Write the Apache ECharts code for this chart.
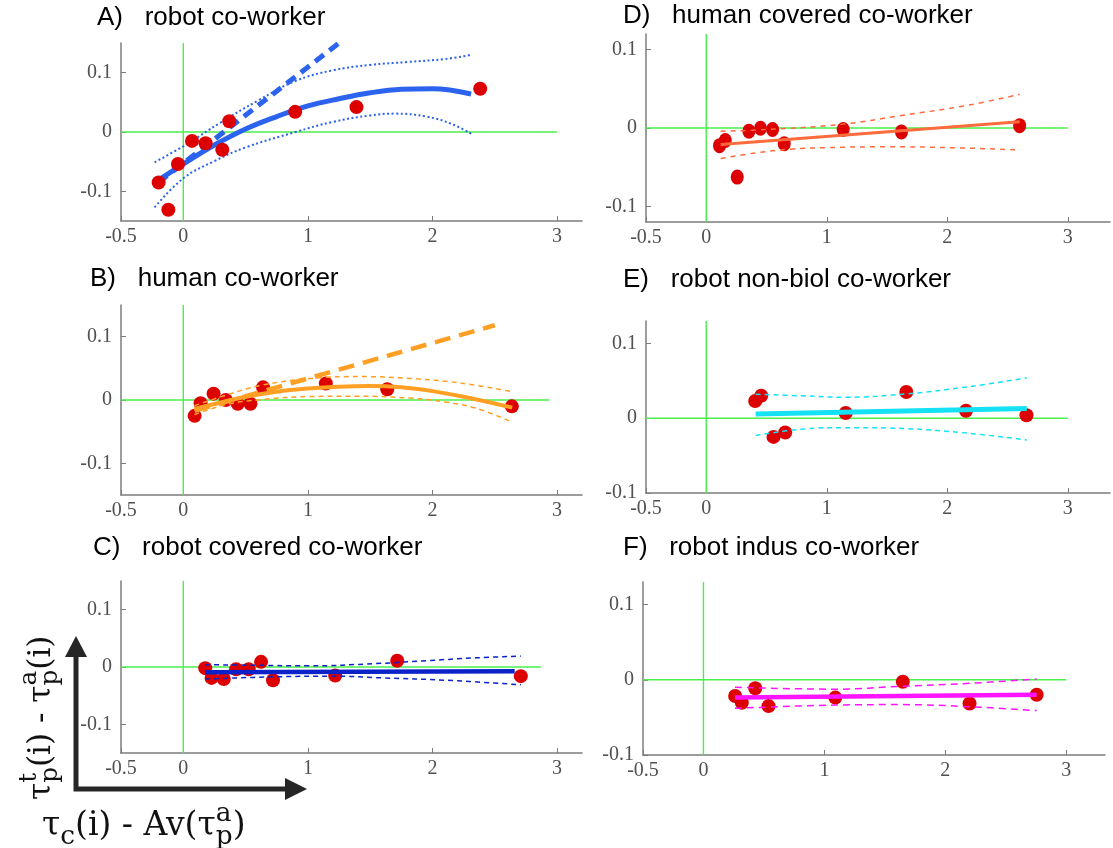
<!DOCTYPE html>
<html>
<head>
<meta charset="utf-8">
<script src="https://cdn.jsdelivr.net/npm/echarts@6/dist/echarts.min.js"></script>
<style>
  html, body { margin: 0; padding: 0; background: #fff; }
  #main { width: 1113px; height: 848px; }
</style>
</head>
<body>
<div id="main"></div>
<script>
  // tick labels shared by every panel
  var xTicks = [-0.5, 0, 1, 2, 3];
  var yTicks = [-0.1, 0, 0.1];

  // A) robot co-worker
  var aPtsX = [-0.198, -0.12, -0.043, 0.07, 0.179, 0.313, 0.369, 0.898, 1.39, 2.383];
  var aPtsY = [-0.085, -0.131, -0.054, -0.015, -0.019, -0.030, 0.018, 0.034, 0.042, 0.073];
  var aFitX = [-0.2, 0, 0.25, 0.5, 0.75, 1.0, 1.25, 1.5, 1.75, 2.0, 2.31];
  var aFitY = [-0.081, -0.054, -0.022, 0.005, 0.026, 0.044, 0.056, 0.066, 0.072, 0.073, 0.064];
  var aUpX = [-0.23, 0, 0.3, 0.6, 0.9, 1.2, 1.5, 1.8, 2.1, 2.31];
  var aUpY = [-0.051, -0.024, 0.016, 0.053, 0.086, 0.104, 0.113, 0.118, 0.123, 0.13];
  var aLoX = [-0.23, 0, 0.25, 0.5, 0.9, 1.2, 1.5, 1.7, 1.95, 2.15, 2.31];
  var aLoY = [-0.127, -0.078, -0.049, -0.026, 0.0, 0.017, 0.028, 0.031, 0.026, 0.014, -0.003];
  var aTanX = [-0.2, 1.25];
  var aTanY = [-0.085, 0.15];

  // B) human co-worker
  var bPtsX = [0.091, 0.139, 0.243, 0.341, 0.437, 0.539, 0.64, 1.144, 1.637, 2.637];
  var bPtsY = [-0.025, -0.005, 0.010, 0.000, -0.006, -0.006, 0.020, 0.026, 0.017, -0.010];
  var bFitX = [0.09, 0.3, 0.5, 0.75, 1.0, 1.25, 1.5, 1.75, 2.0, 2.25, 2.64];
  var bFitY = [-0.014, -0.004, 0.005, 0.013, 0.018, 0.021, 0.022, 0.020, 0.014, 0.005, -0.012];
  var bUpX = [0.09, 0.35, 0.62, 1.02, 1.42, 1.82, 2.22, 2.64];
  var bUpY = [-0.009, 0.008, 0.023, 0.034, 0.037, 0.034, 0.027, 0.013];
  var bLoX = [0.09, 0.35, 0.62, 1.02, 1.42, 1.82, 2.1, 2.35, 2.64];
  var bLoY = [-0.023, -0.007, 0.0005, 0.0055, 0.006, 0.003, -0.003, -0.013, -0.035];
  var bTanX = [0.09, 2.5];
  var bTanY = [-0.017, 0.118];

  // C) robot covered co-worker
  var cPtsX = [0.176, 0.227, 0.325, 0.424, 0.525, 0.624, 0.72, 1.219, 1.717, 2.709];
  var cPtsY = [-0.002, -0.019, -0.021, -0.004, -0.004, 0.009, -0.023, -0.015, 0.011, -0.016];
  var cFitX = [0.176, 2.66];
  var cFitY = [-0.0093, -0.0075];
  var cUpX = [0.176, 0.6, 1.0, 1.55, 1.95, 2.35, 2.71];
  var cUpY = [0.004, 0.003, 0.002, 0.006, 0.011, 0.016, 0.019];
  var cLoX = [0.176, 0.75, 1.2, 1.6, 2.1, 2.71];
  var cLoY = [-0.021, -0.017, -0.016, -0.019, -0.023, -0.031];

  // D) human covered co-worker
  var dPtsX = [0.11, 0.158, 0.257, 0.354, 0.45, 0.55, 0.647, 1.136, 1.62, 2.60];
  var dPtsY = [-0.0225, -0.016, -0.0627, -0.004, -0.0004, -0.002, -0.020, -0.002, -0.005, 0.003];
  var dFitX = [0.12, 2.60];
  var dFitY = [-0.021, 0.008];
  var dUpX = [0.12, 0.5, 1.14, 1.62, 2.17, 2.6];
  var dUpY = [-0.004, -0.002, 0.005, 0.016, 0.029, 0.043];
  var dLoX = [0.12, 0.4, 0.7, 1.0, 1.5, 2.0, 2.6];
  var dLoY = [-0.039, -0.032, -0.027, -0.025, -0.024, -0.025, -0.028];

  // E) robot non-biol co-worker
  var ePtsX = [0.406, 0.456, 0.558, 0.655, 1.157, 1.66, 2.155, 2.657];
  var ePtsY = [0.023, 0.030, -0.025, -0.019, 0.007, 0.035, 0.010, 0.004];
  var eFitX = [0.41, 2.66];
  var eFitY = [0.0056, 0.013];
  var eUpX = [0.41, 0.79, 1.16, 1.66, 2.17, 2.66];
  var eUpY = [0.032, 0.030, 0.028, 0.0325, 0.042, 0.054];
  var eLoX = [0.41, 0.79, 1.16, 1.66, 2.17, 2.66];
  var eLoY = [-0.023, -0.0147, -0.0126, -0.0139, -0.020, -0.029];

  // F) robot indus co-worker
  var fPtsX = [0.262, 0.317, 0.428, 0.538, 1.09, 1.648, 2.2, 2.755];
  var fPtsY = [-0.0216, -0.0306, -0.0112, -0.035, -0.0237, -0.0026, -0.0315, -0.0198];
  var fFitX = [0.26, 2.755];
  var fFitY = [-0.0237, -0.0198];
  var fUpX = [0.26, 1.09, 1.64, 2.2, 2.755];
  var fUpY = [-0.0099, -0.0125, -0.0086, -0.0047, 0.0009];
  var fLoX = [0.26, 1.09, 1.64, 2.2, 2.755];
  var fLoY = [-0.038, -0.0336, -0.033, -0.0358, -0.041];

  function pairs(xs, ys) {
    return xs.map(function (x, i) { return [x, ys[i]]; });
  }

  var panels = [
    { title: 'A)   robot co-worker', tx: 97, ty: 5, grid: { left: 121, top: 43, width: 461, height: 178 },
      xMax: 3.2, yMin: -0.15, yMax: 0.15, zeroEnd: 3.0, color: '#2b63ee',
      pts: pairs(aPtsX, aPtsY), fit: pairs(aFitX, aFitY), up: pairs(aUpX, aUpY), lo: pairs(aLoX, aLoY),
      tan: pairs(aTanX, aTanY), fitW: 5, ciDash: [2, 2.5], ciW: 2, tanDash: [11, 7], tanW: 5, ptsTop: true },
    { title: 'B)   human co-worker', tx: 90, ty: 266, grid: { left: 121, top: 305, width: 461, height: 190 },
      xMax: 3.2, yMin: -0.15, yMax: 0.15, zeroEnd: 2.94, color: '#ffa024',
      pts: pairs(bPtsX, bPtsY), fit: pairs(bFitX, bFitY), up: pairs(bUpX, bUpY), lo: pairs(bLoX, bLoY),
      tan: pairs(bTanX, bTanY), fitW: 4, ciDash: [5, 4], ciW: 1.5, tanDash: [16, 9], tanW: 4.5 },
    { title: 'C)   robot covered co-worker', tx: 93, ty: 535, grid: { left: 121, top: 581, width: 461, height: 172 },
      xMax: 3.2, yMin: -0.15, yMax: 0.15, zeroEnd: 2.87, color: '#0a22c8',
      pts: pairs(cPtsX, cPtsY), fit: pairs(cFitX, cFitY), up: pairs(cUpX, cUpY), lo: pairs(cLoX, cLoY),
      fitW: 4.5, ciDash: [5, 4], ciW: 1.5 },
    { title: 'D)   human covered co-worker', tx: 623, ty: 3, grid: { left: 646, top: 34, width: 464, height: 188 },
      xMax: 3.35, yMin: -0.12, yMax: 0.12, zeroEnd: 3.0, color: '#ff6b3c',
      pts: pairs(dPtsX, dPtsY), fit: pairs(dFitX, dFitY), up: pairs(dUpX, dUpY), lo: pairs(dLoX, dLoY),
      fitW: 3, ciDash: [5, 5], ciW: 1.5, ptSize: [13, 15] },
    { title: 'E)   robot non-biol co-worker', tx: 623, ty: 267, grid: { left: 646, top: 321, width: 464, height: 172 },
      xMax: 3.35, yMin: -0.1, yMax: 0.13, zeroEnd: 3.0, color: '#14e2f4',
      pts: pairs(ePtsX, ePtsY), fit: pairs(eFitX, eFitY), up: pairs(eUpX, eUpY), lo: pairs(eLoX, eLoY),
      fitW: 5, ciDash: [5, 4], ciW: 1.5 },
    { title: 'F)   robot indus co-worker', tx: 623, ty: 535, grid: { left: 643, top: 582, width: 462, height: 173 },
      xMax: 3.32, yMin: -0.1, yMax: 0.13, zeroEnd: 3.0, color: '#ff14ff',
      pts: pairs(fPtsX, fPtsY), fit: pairs(fFitX, fFitY), up: pairs(fUpX, fUpY), lo: pairs(fLoX, fLoY),
      fitW: 4.5, ciDash: [7, 5], ciW: 1.5 }
  ];

  var axisGray = '#7c7c7c';
  var labelGray = '#505050';
  var tickFont = 'Liberation Serif';

  var grids = [], xAxes = [], yAxes = [], titles = [], series = [];

  panels.forEach(function (p, i) {
    grids.push(Object.assign({ outerBoundsMode: 'none' }, p.grid));
    titles.push({
      text: p.title, left: p.tx, top: p.ty, padding: 0,
      textStyle: { fontFamily: 'Liberation Sans', fontSize: 26, fontWeight: 'normal', color: '#000' }
    });
    xAxes.push({
      gridIndex: i, type: 'value', min: -0.5, max: p.xMax,
      axisLine: { onZero: false, lineStyle: { color: axisGray, width: 1.5 } },
      axisTick: { inside: true, length: 5, customValues: xTicks, lineStyle: { color: axisGray } },
      axisLabel: { customValues: xTicks, color: labelGray, fontFamily: tickFont, fontSize: 20, margin: 6 },
      splitLine: { show: false }
    });
    yAxes.push({
      gridIndex: i, type: 'value', min: p.yMin, max: p.yMax,
      axisLine: { show: true, onZero: false, lineStyle: { color: axisGray, width: 1.5 } },
      axisTick: { show: true, inside: true, length: 5, customValues: yTicks, lineStyle: { color: axisGray } },
      axisLabel: { customValues: yTicks, color: labelGray, fontFamily: tickFont, fontSize: 20, margin: 9 },
      splitLine: { show: false }
    });

    var lineZ = p.ptsTop ? 2 : 4;
    // green zero lines
    series.push({
      type: 'line', xAxisIndex: i, yAxisIndex: i, data: [[-0.5, 0], [p.zeroEnd, 0]],
      symbol: 'none', lineStyle: { color: '#4cee4c', width: 1.4 }, z: 1, silent: true
    });
    series.push({
      type: 'line', xAxisIndex: i, yAxisIndex: i, data: [[0, p.yMin], [0, p.yMax]],
      symbol: 'none', lineStyle: { color: '#4cee4c', width: 1.4 }, z: 1, silent: true
    });
    if (p.tan) {
      series.push({
        type: 'line', xAxisIndex: i, yAxisIndex: i, data: p.tan, symbol: 'none',
        lineStyle: { color: p.color, width: p.tanW, type: p.tanDash }, z: lineZ
      });
    }
    series.push({
      type: 'line', xAxisIndex: i, yAxisIndex: i, data: p.up, symbol: 'none', smooth: 0.4,
      lineStyle: { color: p.color, width: p.ciW, type: p.ciDash }, z: lineZ
    });
    series.push({
      type: 'line', xAxisIndex: i, yAxisIndex: i, data: p.lo, symbol: 'none', smooth: 0.4,
      lineStyle: { color: p.color, width: p.ciW, type: p.ciDash }, z: lineZ
    });
    series.push({
      type: 'line', xAxisIndex: i, yAxisIndex: i, data: p.fit, symbol: 'none', smooth: 0.4,
      lineStyle: { color: p.color, width: p.fitW }, z: lineZ + 0.5
    });
    series.push({
      type: 'scatter', xAxisIndex: i, yAxisIndex: i, data: p.pts,
      symbolSize: p.ptSize || 14, itemStyle: { color: '#dd0000', opacity: 1 }, z: 3
    });
  });

  // math-style axis captions built from text pieces
  var mathFont = 'DejaVu Serif';
  var measureCtx = document.createElement('canvas').getContext('2d');
  function textWidth(t, size) {
    measureCtx.font = size + 'px "' + mathFont + '"';
    return measureCtx.measureText(t).width;
  }
  function mathPieces(parts, size) {
    var x = 0, out = [], small = size * 0.8;
    parts.forEach(function (p) {
      if (p.sub || p.sup) {
        var w = 0;
        if (p.sub) {
          out.push(piece(p.sub, x, size * 0.21, small));
          w = textWidth(p.sub, small);
        }
        if (p.sup) {
          out.push(piece(p.sup, x, -size * 0.49, small));
          w = Math.max(w, textWidth(p.sup, small));
        }
        x += w;
      } else {
        out.push(piece(p.t, x, 0, size));
        x += textWidth(p.t, size);
      }
    });
    return out;
  }
  function piece(t, x, y, size) {
    return {
      type: 'text', x: x, y: y,
      style: { text: t, font: size + 'px "' + mathFont + '"', fill: '#111', align: 'left', verticalAlign: 'bottom' }
    };
  }

  var xCaption = [{ t: 'τ' }, { sub: 'c' }, { t: '(i) - Av(' }, { t: 'τ' }, { sub: 'p', sup: 'a' }, { t: ')' }];
  var yCaption = [{ t: 'τ' }, { sub: 'p', sup: 't' }, { t: '(i) - ' }, { t: 'τ' }, { sub: 'p', sup: 'a' }, { t: '(i)' }];

  var arrowColor = '#262626';
  var graphics = [
    { type: 'polyline', shape: { points: [[76, 654], [76, 789], [288, 789]] },
      style: { stroke: arrowColor, lineWidth: 5, fill: null, lineJoin: 'miter' } },
    { type: 'polygon', shape: { points: [[65, 657], [76, 636], [87, 657]] }, style: { fill: arrowColor } },
    { type: 'polygon', shape: { points: [[285, 778], [307, 789], [285, 800]] }, style: { fill: arrowColor } },
    { type: 'group', x: 42, y: 843, children: mathPieces(xCaption, 33) },
    { type: 'group', x: 57, y: 800, rotation: Math.PI / 2, children: mathPieces(yCaption, 31) }
  ];

  var chart = echarts.init(document.getElementById('main'), null, { renderer: 'canvas' });
  chart.setOption({
    animation: false,
    backgroundColor: '#fff',
    title: titles,
    grid: grids,
    xAxis: xAxes,
    yAxis: yAxes,
    series: series,
    graphic: graphics
  });
</script>
</body>
</html>
